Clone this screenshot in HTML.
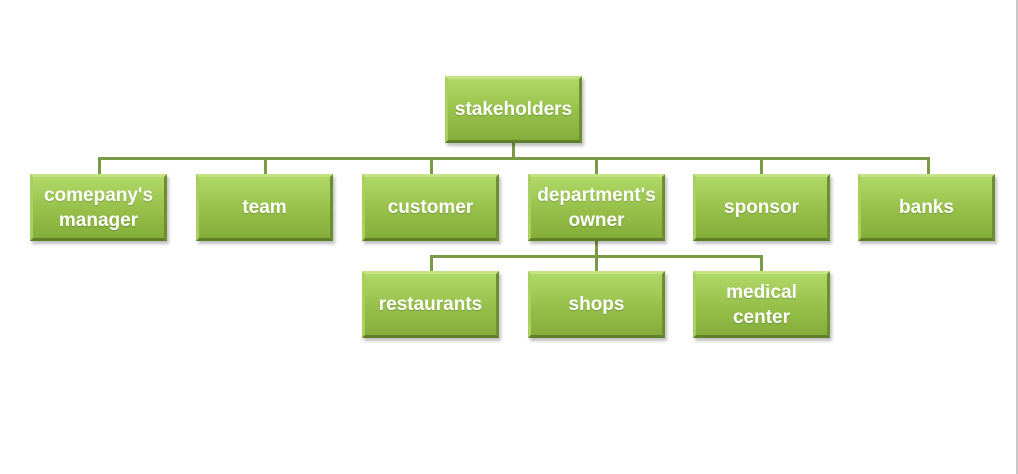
<!DOCTYPE html>
<html><head><style>
body{margin:0;width:1018px;height:474px;background:#fff;position:relative;overflow:hidden;font-family:"Liberation Sans",sans-serif}
.b{position:absolute;width:137px;height:67px;box-sizing:border-box;background:linear-gradient(#b0d868,#98c24c 50%,#84ad3a);border:3px solid;border-color:#c4e484 #6e8f30 #5f7f28 #a8d060;box-shadow:2px 3px 3px rgba(0,0,0,.25);color:#fff;font-weight:bold;font-size:19px;line-height:25px;display:flex;align-items:center;justify-content:center;text-align:center;text-shadow:0 1px 1px rgba(0,0,0,.2)}
.l{position:absolute;background:#7a9a45}
</style></head><body>
<div class="l" style="left:98px;top:157px;width:832px;height:3px"></div>
<div class="l" style="left:512px;top:143px;width:3px;height:16px"></div>
<div class="l" style="left:98px;top:157px;width:3px;height:18px"></div>
<div class="l" style="left:264px;top:157px;width:3px;height:18px"></div>
<div class="l" style="left:430px;top:157px;width:3px;height:18px"></div>
<div class="l" style="left:595px;top:157px;width:3px;height:18px"></div>
<div class="l" style="left:760px;top:157px;width:3px;height:18px"></div>
<div class="l" style="left:927px;top:157px;width:3px;height:18px"></div>
<div class="l" style="left:430px;top:255px;width:333px;height:3px"></div>
<div class="l" style="left:595px;top:240px;width:3px;height:32px"></div>
<div class="l" style="left:430px;top:255px;width:3px;height:17px"></div>
<div class="l" style="left:760px;top:255px;width:3px;height:17px"></div>
<div class="b" style="left:445px;top:76px">stakeholders</div>
<div class="b" style="left:30px;top:174px">comepany's<br>manager</div>
<div class="b" style="left:196px;top:174px">team</div>
<div class="b" style="left:362px;top:174px">customer</div>
<div class="b" style="left:528px;top:174px">department's<br>owner</div>
<div class="b" style="left:693px;top:174px">sponsor</div>
<div class="b" style="left:858px;top:174px">banks</div>
<div class="b" style="left:362px;top:271px">restaurants</div>
<div class="b" style="left:528px;top:271px">shops</div>
<div class="b" style="left:693px;top:271px">medical<br>center</div>
<div style="position:absolute;left:1016px;top:0;width:2px;height:474px;background:#c8c8c8"></div>
</body></html>
